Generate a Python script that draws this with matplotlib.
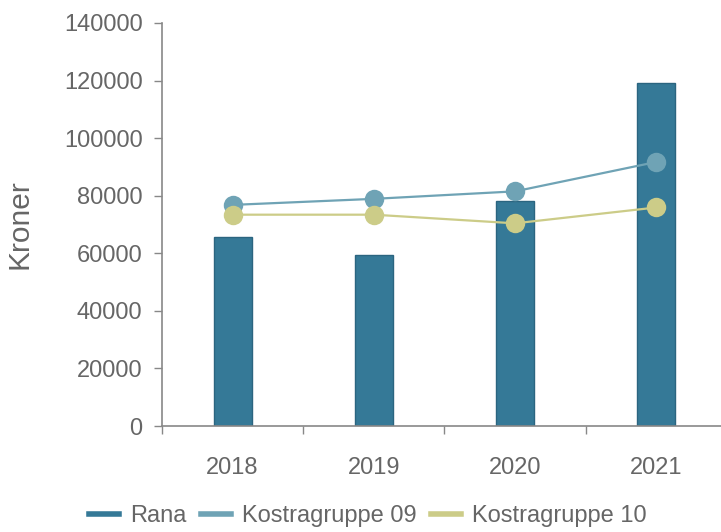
import matplotlib.pyplot as plt
from matplotlib.lines import Line2D

# Values
years = ["2018", "2019", "2020", "2021"]
rana = [65700, 59400, 78200, 119300]
kostra_09 = [76800, 78900, 81500, 91700]
kostra_10 = [73400, 73400, 70400, 75900]

bar_color = "#357997"
color_09 = "#6fa3b5"
color_10 = "#cccc88"
text_color = "#666666"

plt.rcParams["font.family"] = ["Liberation Sans", "DejaVu Sans"]

fig = plt.figure(figsize=(7.21, 5.32), dpi=100)
ax = fig.add_axes([0.2247, 0.1992, 0.7833, 0.7577])

x = list(range(len(years)))
ax.bar(x, rana, width=0.27, color=bar_color, edgecolor="#2b6580", linewidth=1, zorder=2)
ax.plot(x, kostra_09, color=color_09, lw=1.6, marker="o", markersize=14,
        markeredgewidth=0, zorder=3)
ax.plot(x, kostra_10, color=color_10, lw=1.6, marker="o", markersize=14,
        markeredgewidth=0, zorder=3)

ax.set_xlim(-0.5, 3.5)
ax.set_ylim(0, 140000)
ax.set_yticks(range(0, 140001, 20000))
ax.tick_params(axis="y", labelsize=17, colors=text_color, length=6, width=1, pad=8)

# category labels at centres, ticks at band boundaries
ax.set_xticks([-0.5, 0.5, 1.5, 2.5])
ax.set_xticklabels([])
ax.set_xticks(x, minor=True)
ax.set_xticklabels(years, minor=True)
ax.tick_params(axis="x", which="major", length=6, width=1, color="#888888")
ax.tick_params(axis="x", which="minor", length=0, labelsize=17, colors=text_color, pad=22)
ax.tick_params(axis="y", color="#888888")

for side in ["top", "right"]:
    ax.spines[side].set_visible(False)
for side in ["left", "bottom"]:
    ax.spines[side].set_color("#888888")
    ax.spines[side].set_linewidth(1.2)

ax.set_ylabel("Kroner", fontsize=21.5, color=text_color, labelpad=22)

handles = [
    Line2D([], [], color=bar_color, lw=4),
    Line2D([], [], color=color_09, lw=4),
    Line2D([], [], color=color_10, lw=4),
]
fig.legend(handles, ["Rana", "Kostragruppe 09", "Kostragruppe 10"],
           loc="center", bbox_to_anchor=(0.51, 0.03), ncol=3, frameon=False,
           fontsize=17, labelcolor=text_color, handlelength=1.3,
           handletextpad=0.45, columnspacing=0.6)

fig.savefig("out.png", dpi=100)
